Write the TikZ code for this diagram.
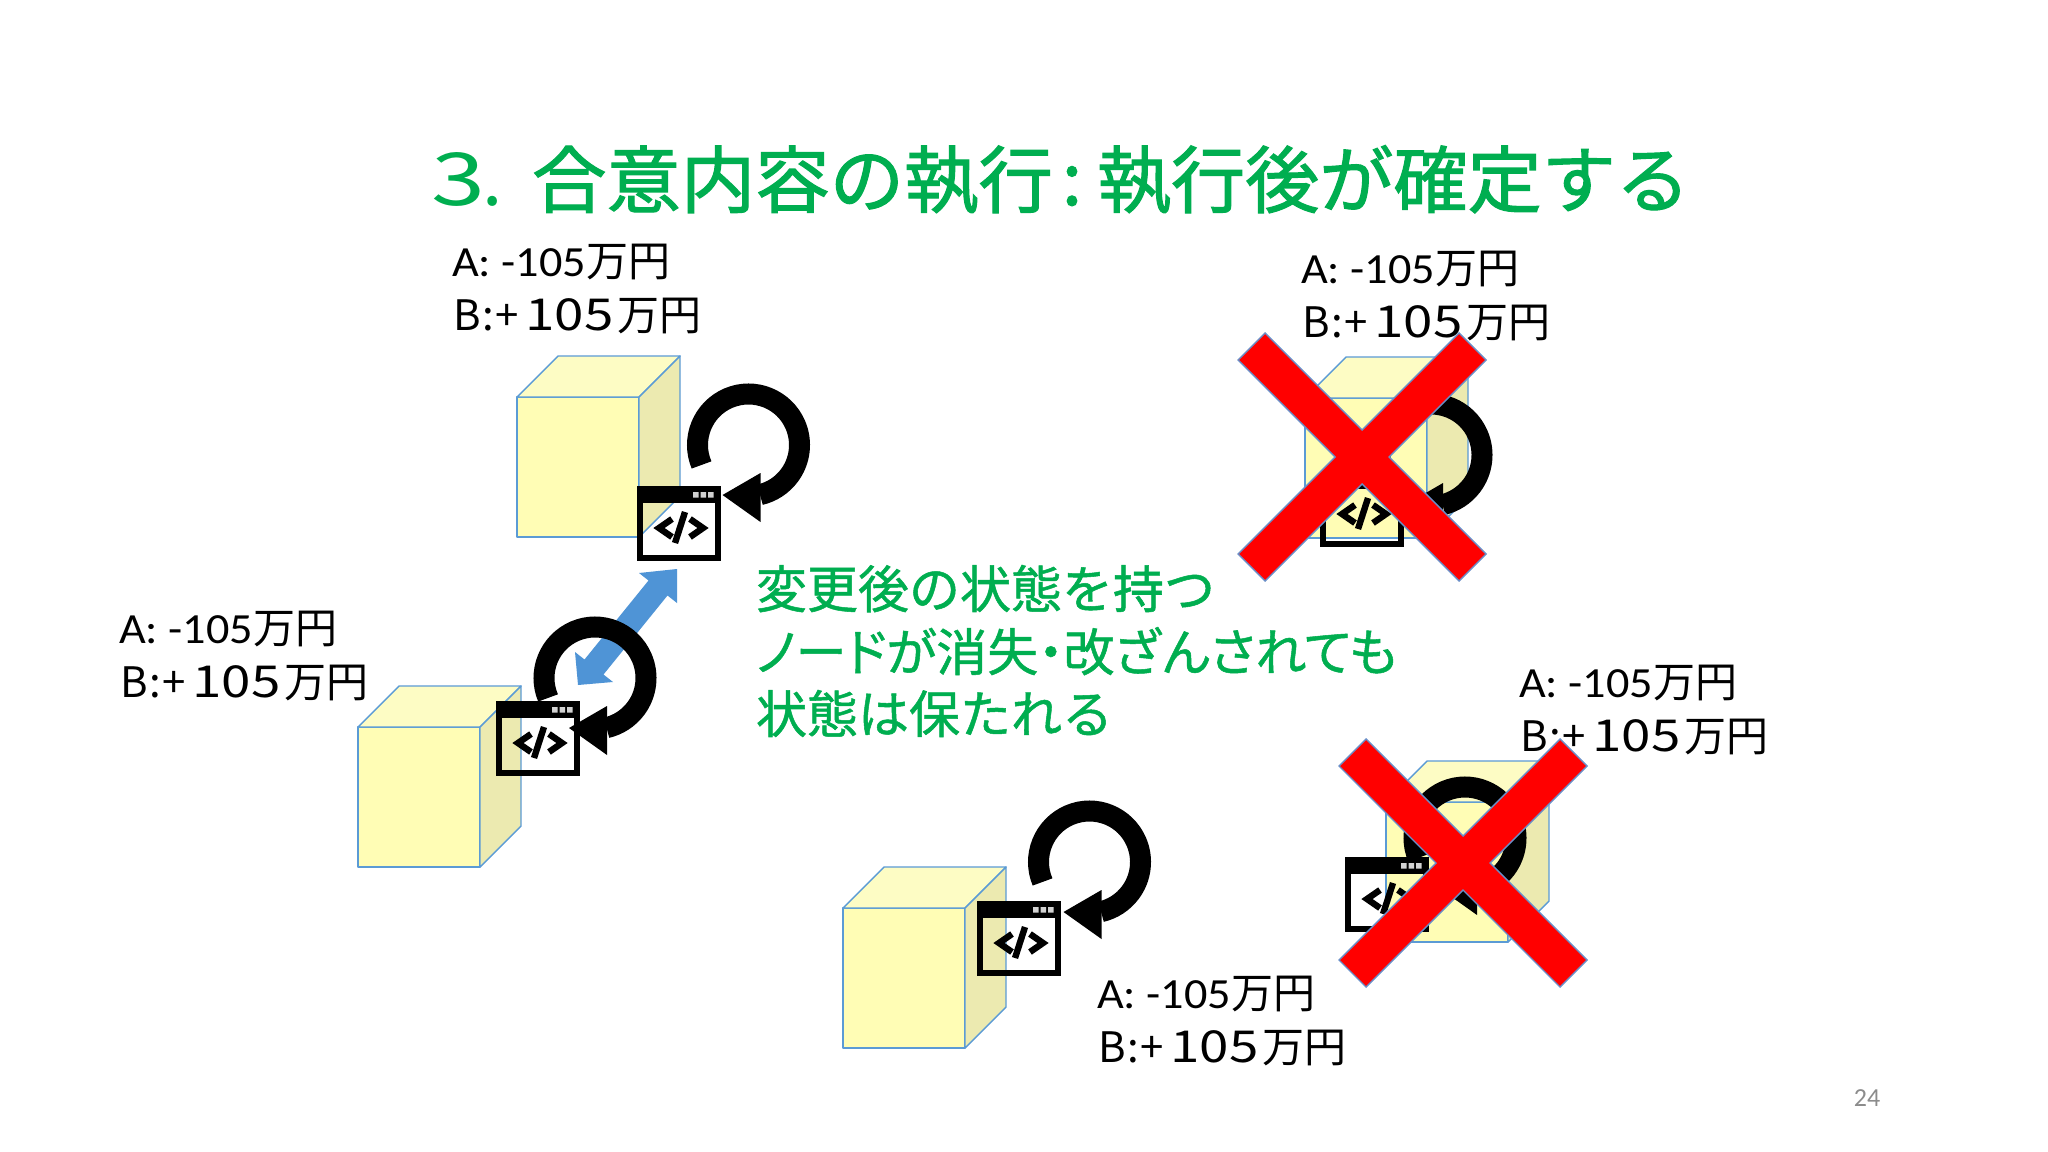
\documentclass[tikz,border=0pt]{standalone}
\usepackage{fontspec}
\usepackage{graphicx}
\setmainfont{Carlito}
\newfontfamily\jpfont{Noto Sans CJK JP}
\newfontfamily\jpbold[FakeBold=1.5]{Noto Sans CJK JP}
\newfontfamily\jpbody[FakeBold=1.0]{Noto Sans CJK JP}
\newfontfamily\jppalt[RawFeature=+palt,FakeBold=1.0]{Noto Sans CJK JP}
\newfontfamily\latfont{Carlito}
\definecolor{titlegreen}{HTML}{00AE50}
\definecolor{cubeedge}{HTML}{5B9BD5}
\definecolor{cubefront}{HTML}{FFFDB5}
\definecolor{cubetop}{HTML}{FDFCC4}
\definecolor{cubeside}{HTML}{ECEAB0}
\definecolor{dbl}{HTML}{4F94D6}
\definecolor{xedge}{HTML}{6A8FC8}
\definecolor{pagegray}{HTML}{8C8C8C}
\tikzset{
  txt/.style={anchor=base west,inner sep=0pt,outer sep=0pt},
  cubeline/.style={draw=cubeedge,line width=0.7pt,line join=round},
  crossshape/.style={fill=red,draw=xedge,line width=0.7pt,line join=miter},
  bluearrow/.style={fill=dbl},
  winline/.style={draw=black,line width=3pt},
  codeline/.style={draw=black,line width=3.2pt,line cap=butt,line join=miter},
  spinline/.style={draw=black,line width=10.5pt,line cap=butt},
  titletext/.style={txt,text=titlegreen,font=\jpbold\fontsize{36.5}{40}\selectfont},
  titlethin/.style={txt,text=titlegreen,font=\jpfont\fontsize{36.5}{40}\selectfont},
  bodytext/.style={txt,text=titlegreen,font=\jpbody\fontsize{25.5}{30}\selectfont},
}
\newcommand\fitw[2]{\resizebox{#1pt}{\height}{#2}}
% front-top-left x,y
\newcommand\cubeshape[2]{%
  \begin{scope}[shift={(#1,#2)}]
    \draw[cubeline,fill=cubefront] (0,0) rectangle (122,140);
    \draw[cubeline,fill=cubetop] (0,0) -- (41,-41) -- (163,-41) -- (122,0) -- cycle;
    \draw[cubeline,fill=cubeside] (122,0) -- (163,-41) -- (163,99) -- (122,140) -- cycle;
  \end{scope}}
\newcommand\codewin[2]{%
  \begin{scope}[shift={(#1,#2)}]
    \draw[winline] (3,3) rectangle (81,72);
    \fill[black] (0,0) rectangle (84,17);
    \fill[gray!35] (56,6) rectangle (61.5,11.5) (63.5,6) rectangle (69,11.5) (71,6) rectangle (76.5,11.5);
    \draw[codeline] (35,33) -- (22,42) -- (35,51);
    \draw[codeline] (53,33) -- (66,42) -- (53,51);
    \draw[codeline] (48,26) -- (38,57);
  \end{scope}}
\newcommand\spinloop[2]{%
  \begin{scope}[shift={(#1,#2)}]
    \draw[spinline] (157:51) arc[start angle=157,end angle=437,radius=51];
    \fill[black] (-26,50) -- (12,28) -- (12,77) -- cycle;
  \end{scope}}
\newcommand\redcross[2]{%
  \draw[crossshape,shift={(#1,#2)}] (-97,-124) -- (0,-27) -- (97,-124) -- (124,-97) -- (27,0) -- (124,97) -- (97,124) -- (0,27) -- (-97,124) -- (-124,97) -- (-27,0) -- (-124,-97) -- cycle;}
\newcommand\amount[3]{%
  \node[txt] (#1a) at (#2,#3) {\fontsize{21.5}{24}\selectfont\fitw{67}{A: -105}{\jpfont\fontsize{21}{24}\selectfont 万円}};
  \node[txt] (#1b) at ({#2+1},{#3+54}) {\jpfont\fontsize{21}{24}\selectfont B\hspace{1pt}:\hspace{.5pt}+\hspace{3.5pt}{\fontsize{22}{24}\selectfont\fitw{44}{105}}\hspace{2pt}万円};}
\begin{document}
\begin{tikzpicture}[x=0.5pt,y=-0.5pt]
\useasboundingbox (0,0) rectangle (2048,1151);
\fill[white] (0,0) rectangle (2048,1151);

% title
\node[titlethin] (t1) at (431,205) {\fitw{27}{3}\hspace{-1.5pt}.};
\node[titletext] (t2) at (532,207) {\fitw{260.5}{合意内容の執行}};
\node[titletext,anchor=base] (t3) at (1072,205) {:};
\node[titletext] (t4) at (1097,207) {\fitw{296.5}{執行後が確定する}};

% labels
\amount{la}{452}{276}
\amount{lb}{1301}{283}
\amount{lc}{119}{643}
\amount{ld}{1519}{697}
\amount{le}{1097}{1008}

% cubes
\cubeshape{517}{397}
\cubeshape{358}{727}
\cubeshape{843}{908}
\cubeshape{1305}{398}
\cubeshape{1386}{802}

% replication arrow
\fill[bluearrow] (677,569) -- (677,603) -- (667.5,595.5) -- (603.5,674.5) -- (613,682) -- (578,685) -- (575,652) -- (584.5,659.5) -- (648.5,580.5) -- (639,573) -- cycle;

% contract icons
\codewin{637}{486}\spinloop{748.5}{445}
\codewin{496}{701}\spinloop{595}{678}
\codewin{977}{901}\spinloop{1089.5}{862}
\codewin{1320}{472}\spinloop{1431}{455}
\codewin{1345}{857}\spinloop{1465}{838}

% body
\node[bodytext] (b1) at (756,608) {変更後の状態を持つ};
\node[bodytext] (b2) at (756,671) {\fitw{320.5}{\jppalt ノードが消失・改ざんされても}};
\node[bodytext] (b3) at (756,733) {状態は保たれる};

% crosses
\redcross{1362}{457}
\redcross{1463}{863}

% page number
\node[txt,anchor=base,text=pagegray,font=\latfont\fontsize{13}{15}\selectfont] (pg) at (1867,1106) {24};
\end{tikzpicture}
\end{document}
